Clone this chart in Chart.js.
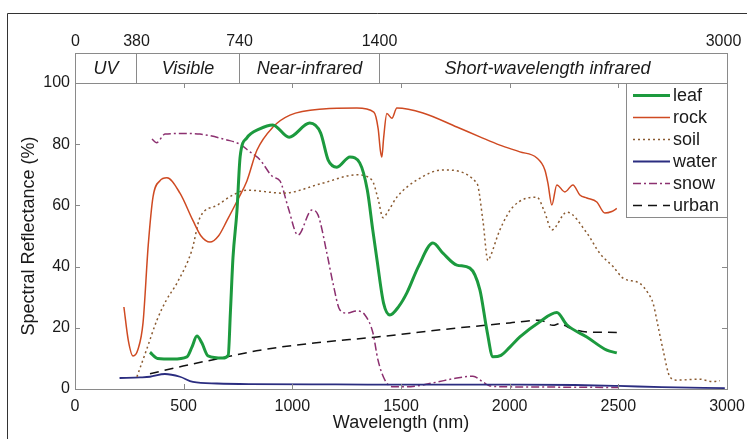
<!DOCTYPE html>
<html>
<head>
<meta charset="utf-8">
<script src="https://cdn.jsdelivr.net/npm/chart.js@4.4.0/dist/chart.umd.min.js"></script>
<style>
  html, body { margin: 0; padding: 0; background: #fff; }
  #wrap { width: 747px; height: 439px; }
</style>
</head>
<body>
<div id="wrap"><canvas id="spectra" width="747" height="439"></canvas></div>
<script>
// ------------------------
// Reflectance spectra: wavelength (nm) and reflectance (%)
// ------------------------
const leafNm = [345, 380, 450, 515, 538, 561, 584, 612, 680, 705, 715, 727, 745, 760, 790, 850, 910, 985, 1080, 1130, 1165, 1205, 1265, 1310, 1345, 1370, 1390, 1420, 1449, 1490, 1527, 1580, 1647, 1693, 1757, 1817, 1863, 1895, 1923, 1960, 2001, 2047, 2139, 2217, 2263, 2355, 2447, 2493];
const leafPct = [12, 10, 9.8, 10.5, 13.7, 17.3, 15, 10.8, 10.1, 11, 25, 43, 58, 76, 82, 85, 86.3, 82.3, 86.9, 83.7, 74.8, 72.5, 75.8, 73.9, 65, 52, 42, 28, 24.2, 27, 31.4, 40, 47.7, 44.4, 40.5, 39.5, 32.4, 19.3, 10.5, 11, 13.7, 17, 22, 25, 21, 17, 12.7, 11.8];

const rockNm = [225, 245, 267, 290, 313, 337, 359, 390, 423, 483, 543, 580, 621, 660, 699, 750, 791, 837, 911, 989, 1141, 1297, 1375, 1395, 1405, 1412, 1420, 1435, 1458, 1481, 1601, 1757, 1863, 1955, 2047, 2125, 2162, 2176, 2194, 2217, 2254, 2291, 2323, 2355, 2401, 2438, 2470, 2493];
const rockPct = [26.8, 16, 10.8, 13, 21.6, 47, 62.8, 68, 69, 64, 55, 50, 48, 50, 55, 62, 68, 78, 85.6, 89.5, 91.5, 91.8, 90.5, 85, 78, 75.8, 82, 90, 88.5, 91.8, 90.2, 85.6, 82.4, 79.7, 77.5, 75.5, 71.6, 67.3, 60.1, 66.7, 64.4, 66.7, 63.4, 62.4, 61.1, 57.5, 58, 59];

const soilNm = [285, 330, 377, 420, 469, 538, 575, 653, 727, 791, 957, 1141, 1297, 1366, 1395, 1417, 1440, 1481, 1573, 1693, 1849, 1877, 1900, 1909, 1955, 2015, 2125, 2160, 2194, 2263, 2355, 2415, 2476, 2522, 2599, 2637, 2660, 2683, 2706, 2737, 2768, 2875, 2936, 2967];
const soilPct = [4, 13, 22.5, 29, 34.6, 45.4, 56, 60, 63.4, 65, 64, 67.3, 70, 68.3, 62, 56, 58, 62.7, 68.3, 71.6, 67.3, 55, 42, 43, 52, 59.5, 62.7, 58, 52, 57.8, 51, 44.3, 40, 36.2, 34.5, 31.3, 28, 20.4, 12.7, 4, 2.9, 3.2, 2.4, 2.7];

const waterNm = [205, 300, 345, 414, 483, 543, 653, 800, 1200, 1600, 2000, 2300, 2500, 2700, 2990];
const waterPct = [3.6, 3.8, 4, 4.9, 4, 2.3, 1.8, 1.6, 1.5, 1.4, 1.4, 1.3, 1, 0.6, 0.3];

const snowNm = [354, 375, 414, 500, 575, 699, 759, 805, 850, 911, 943, 980, 1026, 1090, 1118, 1159, 1187, 1219, 1251, 1297, 1334, 1371, 1394, 1426, 1463, 1527, 1647, 1757, 1831, 1877, 1909, 2001, 2250, 2500];
const snowPct = [81.7, 80.5, 83.3, 83.5, 83.3, 81.4, 80, 77.5, 75, 69.3, 68, 59.5, 50.3, 58.5, 56.9, 44.4, 34.6, 25.8, 24.8, 25.5, 24.2, 18.3, 9.5, 2.9, 0.7, 0.7, 2, 3.6, 4.2, 2.3, 1, 0.7, 0.6, 0.5];

const urbanNm = [345, 497, 699, 851, 1100, 1389, 1700, 2001, 2139, 2199, 2231, 2277, 2369, 2493];
const urbanPct = [5, 7.5, 10.5, 12.7, 15, 17, 19.5, 21.6, 22.5, 20.8, 21.4, 19.9, 18.6, 18.5];

// Spectral regions strip above the axes (dividers are not to scale)
const regionNames = ['UV', 'Visible', 'Near-infrared', 'Short-wavelength infrared'];
const regionTickText = ['0', '380', '740', '1400', '3000'];
const regionEdgeNm = [0, 282, 755, 1400, 3000];

const FONT = '"Liberation Sans", Arial, Helvetica, sans-serif';
const FRAME = '#8a8a8a';
const INK = '#1a1a1a';

function pts(xs, ys) {
    return xs.map((v, i) => ({ x: v, y: ys[i] }));
}

function series(label, xs, ys, color, width, dash) {
    return {
        label: label,
        data: pts(xs, ys),
        borderColor: color,
        backgroundColor: color,
        borderWidth: width,
        borderDash: dash,
        pointRadius: 0,
        fill: false,
        cubicInterpolationMode: 'monotone'
    };
}

// ------------------------
// Box, inward ticks, region strip and legend
// ------------------------
const decor = {
    id: 'decor',
    afterDatasetsDraw(chart) {
        const { ctx, chartArea: a, scales: { x, y } } = chart;
        ctx.save();

        // outer figure border (left and top only)
        ctx.strokeStyle = '#333';
        ctx.lineWidth = 1;
        ctx.beginPath();
        ctx.moveTo(7.5, 439);
        ctx.lineTo(7.5, 13.5);
        ctx.lineTo(747, 13.5);
        ctx.stroke();

        // axes box
        ctx.strokeStyle = FRAME;
        ctx.strokeRect(a.left + 0.5, a.top + 0.5, a.right - a.left, a.bottom - a.top);

        // inward tick marks on all four sides
        const tl = 5;
        ctx.beginPath();
        x.ticks.forEach(t => {
            if (t.value <= x.min || t.value >= x.max) return;
            const px = Math.round(x.getPixelForValue(t.value)) + 0.5;
            ctx.moveTo(px, a.bottom); ctx.lineTo(px, a.bottom - tl);
            ctx.moveTo(px, a.top); ctx.lineTo(px, a.top + tl);
        });
        y.ticks.forEach(t => {
            if (t.value <= y.min || t.value >= y.max) return;
            const py = Math.round(y.getPixelForValue(t.value)) + 0.5;
            ctx.moveTo(a.left, py); ctx.lineTo(a.left + tl, py);
            ctx.moveTo(a.right, py); ctx.lineTo(a.right - tl, py);
        });
        ctx.stroke();

        // region strip
        const sTop = 53, sBot = a.top;
        ctx.strokeRect(a.left + 0.5, sTop + 0.5, a.right - a.left, sBot - sTop);
        const edges = regionEdgeNm.map(v => Math.round(x.getPixelForValue(v)) + 0.5);
        ctx.beginPath();
        edges.slice(1, -1).forEach(px => { ctx.moveTo(px, sTop); ctx.lineTo(px, sBot); });
        ctx.stroke();

        ctx.fillStyle = INK;
        ctx.textAlign = 'center';
        ctx.textBaseline = 'middle';
        ctx.font = 'italic 18px ' + FONT;
        regionNames.forEach((name, i) => {
            ctx.fillText(name, (edges[i] + edges[i + 1]) / 2 - (i === 3 ? 6 : 0), (sTop + sBot) / 2 + 1);
        });
        ctx.font = '16px ' + FONT;
        regionTickText.forEach((txt, i) => {
            ctx.fillText(txt, edges[i] - (i === 4 ? 4 : 0), 42);
        });

        // legend
        const lw = 101, lh = 134;
        const lx = a.right - lw, ly = a.top;
        ctx.fillStyle = '#fff';
        ctx.fillRect(lx, ly, lw, lh);
        ctx.strokeStyle = FRAME;
        ctx.setLineDash([]);
        ctx.strokeRect(lx + 0.5, ly + 0.5, lw, lh);
        ctx.font = '18px ' + FONT;
        ctx.textAlign = 'left';
        chart.data.datasets.forEach((ds, i) => {
            const ry = ly + 12.5 + i * 22;
            ctx.strokeStyle = ds.borderColor;
            ctx.lineWidth = ds.borderWidth;
            ctx.setLineDash(ds.borderDash || []);
            ctx.beginPath();
            ctx.moveTo(lx + 7, ry);
            ctx.lineTo(lx + 44, ry);
            ctx.stroke();
            ctx.fillStyle = INK;
            ctx.fillText(ds.label, lx + 47, ry + 1);
        });
        ctx.restore();
    }
};

Chart.defaults.font.family = FONT;
Chart.defaults.color = INK;

new Chart(document.getElementById('spectra'), {
    type: 'line',
    data: {
        datasets: [
            series('leaf', leafNm, leafPct, '#1c9a3e', 3, []),
            series('rock', rockNm, rockPct, '#cf4a22', 1.5, []),
            series('soil', soilNm, soilPct, '#8a5a30', 1.5, [2, 3]),
            series('water', waterNm, waterPct, '#2b2d80', 1.8, []),
            series('snow', snowNm, snowPct, '#8c3070', 1.5, [8, 3, 2, 3]),
            series('urban', urbanNm, urbanPct, '#111111', 1.5, [9, 6])
        ]
    },
    options: {
        responsive: false,
        animation: false,
        devicePixelRatio: 1,
        layout: { padding: { top: 83, right: 20, left: 0, bottom: 0 } },
        plugins: {
            legend: { display: false },
            tooltip: { enabled: false }
        },
        scales: {
            x: {
                type: 'linear',
                min: 0,
                max: 3000,
                afterFit: s => { s.height = 50; s.paddingLeft = 0; s.paddingRight = 0; },
                ticks: { stepSize: 500, font: { size: 16 }, padding: 8, maxRotation: 0, callback: v => String(v) },
                grid: { display: false, drawTicks: false },
                border: { display: false },
                title: { display: true, text: 'Wavelength (nm)', font: { size: 18 }, padding: { bottom: 5 } }
            },
            y: {
                min: 0,
                max: 100,
                afterFit: s => { s.width = 75; s.paddingTop = 0; s.paddingBottom = 0; },
                ticks: { stepSize: 20, font: { size: 16 }, padding: 5 },
                grid: { display: false, drawTicks: false },
                border: { display: false },
                title: { display: true, text: 'Spectral Reflectance (%)', font: { size: 18 }, padding: { top: 18 } }
            }
        }
    },
    plugins: [decor]
});
</script>
</body>
</html>
